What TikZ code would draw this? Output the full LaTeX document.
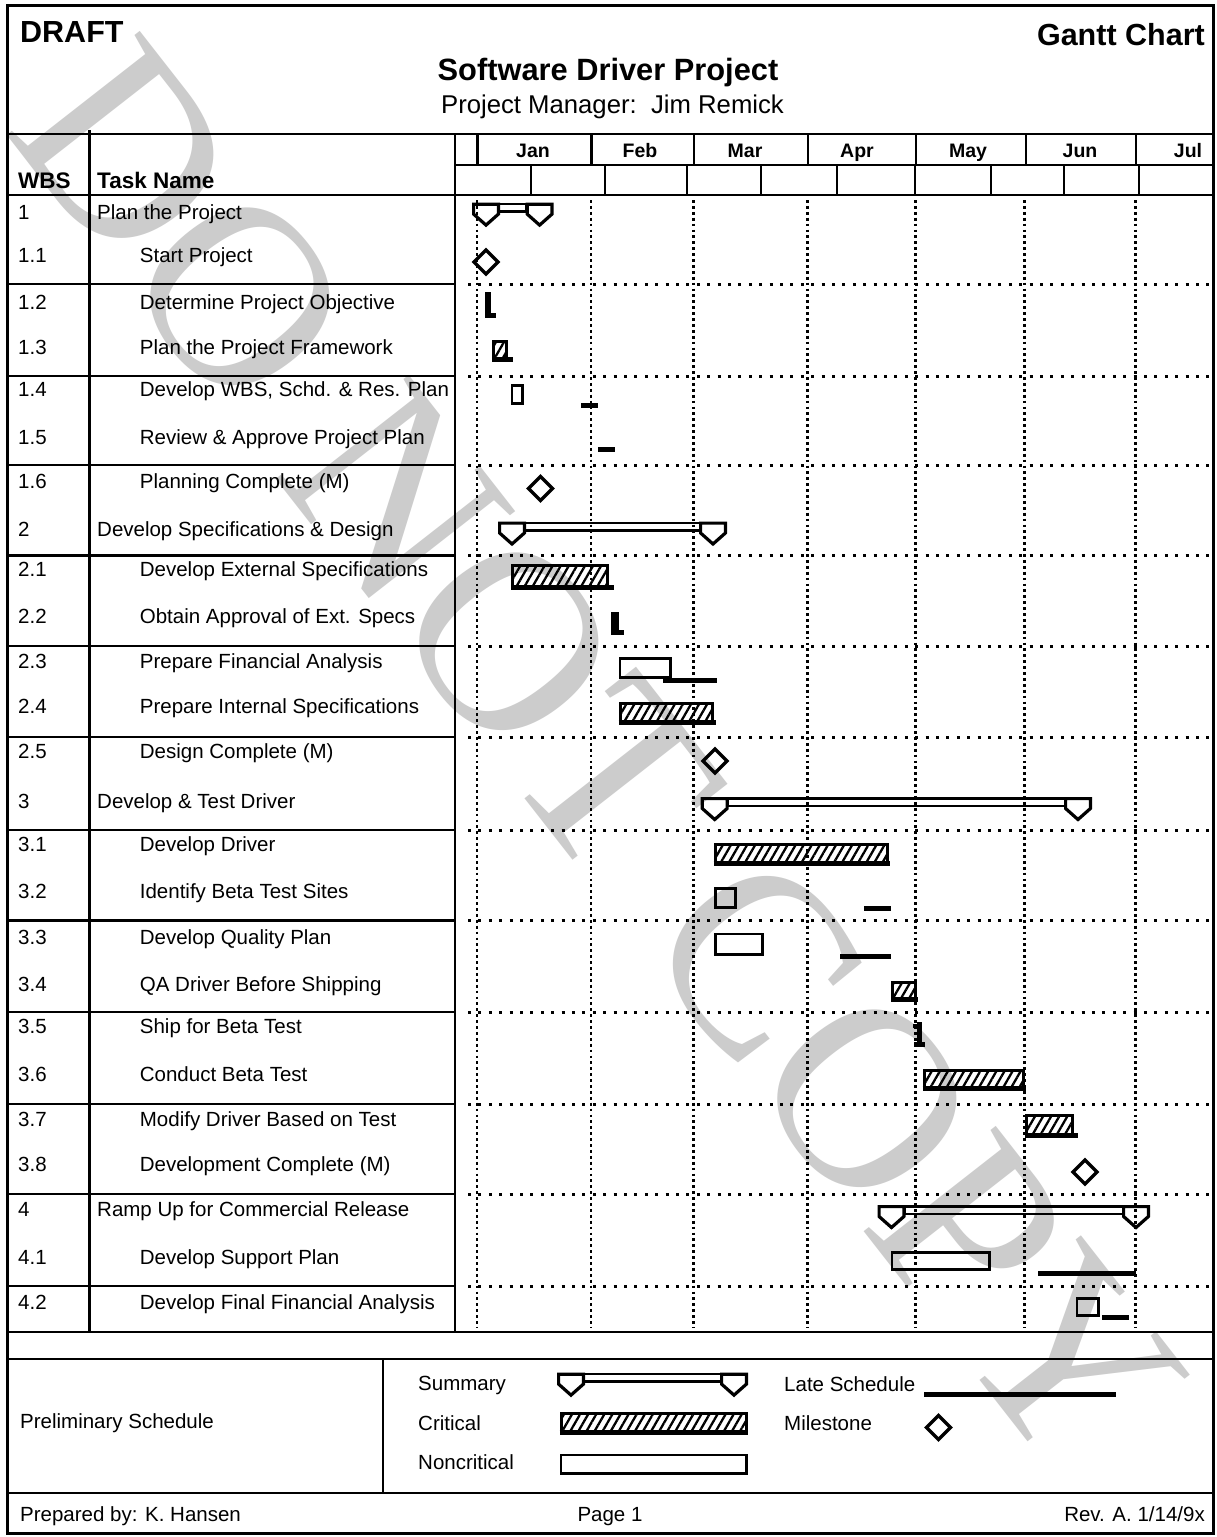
\documentclass[tikz,border=0pt]{standalone}
\usepackage{fontspec}
\setmainfont{Liberation Sans}
\newfontfamily\wmfont{Liberation Serif}
\usetikzlibrary{patterns.meta}
\newcommand{\myfs}[1]{\fontsize{#1}{#1}\selectfont}
\definecolor{wmgray}{RGB}{204,204,204}
% summary bar: x0, x1, top
\newcommand{\summ}[3]{%
  \draw[sumbar] (#1+27,#3+1.3) rectangle (#2-27,#3+9);
  \draw[sumcap] (#1+1.6,#3+1.6) -- (#1+26.4,#3+1.6) -- (#1+26.4,#3+11.5) -- (#1+14,#3+22.5) -- (#1+1.6,#3+11.5) -- cycle;
  \draw[sumcap] (#2-26.4,#3+1.6) -- (#2-1.6,#3+1.6) -- (#2-1.6,#3+11.5) -- (#2-14,#3+22.5) -- (#2-26.4,#3+11.5) -- cycle;}
% milestone: cx, cy
\newcommand{\mstone}[2]{%
  \draw[mile] (#1-12,#2) -- (#1,#2-12) -- (#1+12,#2) -- (#1,#2+12) -- cycle;}
% critical bar: x0 x1 y0 y1 lateend (outer extents)
\newcommand{\critbar}[5]{%
  \draw[crit] (#1+1.5,#3+1.5) rectangle (#2-1.5,#4-1.5);
  \draw[late] (#1,#4-2.5) -- (#5,#4-2.5);}
% noncritical bar: outer extents
\newcommand{\ncbar}[4]{%
  \draw[noncrit] (#1+1.4,#3+1.4) rectangle (#2-1.4,#4-1.4);}
% late line: x0 x1 y
\newcommand{\lateline}[3]{\draw[late] (#1,#3) -- (#2,#3);}
\begin{document}
\begin{tikzpicture}[x=1pt,y=-1pt,
  tx/.style={font=\myfs{20.5}, inner sep=0pt, anchor=base west},
  frame/.style={line width=2.6pt},
  dotv/.style={line width=2.8pt, dash pattern=on 2.8pt off 3.1pt},
  doth/.style={line width=3pt, dash pattern=on 3pt off 7.4pt},
  crit/.style={pattern={Lines[angle=60,distance=7pt,line width=2.3pt]}, draw, line width=3pt},
  noncrit/.style={draw, line width=2.8pt},
  late/.style={line width=5pt},
  mile/.style={draw, line width=3.4pt, line join=miter},
  sumcap/.style={draw, line width=3.2pt, line join=miter},
  sumbar/.style={draw, line width=2.4pt}]
\useasboundingbox (0,0) rectangle (1217,1537);
\fill[white] (0,0) rectangle (1217,1537);

% ---------- watermark ----------
\begin{scope}
\clip (0,0) rectangle (1217,1537);
\node[rotate=-52, text=wmgray, font=\wmfont\myfs{258}, inner sep=0pt] (wm) at (598,755) {DO NOT COPY};
\end{scope}

% ---------- frame ----------
\draw[frame, line width=3pt] (7,5) rectangle (1213.5,1533);
\draw[frame] (7,134) -- (1213.5,134);
\draw[frame] (7,195) -- (1213.5,195);
\draw[frame] (89.5,130) -- (89.5,1332);
\draw[frame] (455,134) -- (455,1332);
\draw[frame] (455,165) -- (1213.5,165);
\foreach \x in {477.5,591.5,694,808,916,1026,1136} \draw[frame] (\x,134) -- (\x,165);
\foreach \x in {531,605,687,761,837,915,991,1064,1139} \draw[frame] (\x,165) -- (\x,195);
\foreach \y in {284,376,465,555.5,646,737,830,920.5,1012,1104,1194,1286} \draw[frame] (7,\y) -- (455,\y);
\draw[frame] (7,1332) -- (1213.5,1332);
\draw[frame] (7,1359) -- (1213.5,1359);
\draw[frame] (383,1359) -- (383,1493);
\draw[frame] (7,1493) -- (1213.5,1493);

% ---------- grid ----------
\foreach \x in {477,591,693.5,807.5,915.5,1024.5,1135.5} \draw[dotv] (\x,200) -- (\x,1328);
\foreach \y in {284,376,465,555.5,646,737,830,920.5,1012,1104,1194,1286} \draw[doth] (468,\y) -- (1213.5,\y);

% ---------- header text ----------
\node[tx, font=\myfs{30.5}\bfseries] (draft) at (20,42.5) {DRAFT};
\node[tx, font=\myfs{30.5}\bfseries, anchor=base east] (gantt) at (1205,45) {Gantt Chart};
\node[tx, font=\myfs{30.8}\bfseries, anchor=base] (title) at (608,80.5) {Software Driver Project};
\node[tx, font=\myfs{25.7}, anchor=base] (pm) at (612.5,113) {Project Manager:\ \ Jim Remick};
\node[tx, font=\myfs{22.5}\bfseries] (hwbs) at (18,188) {WBS};
\node[tx, font=\myfs{22.5}\bfseries] (htask) at (97,188) {Task Name};
\foreach \m/\x [count=\i] in {Jan/533,Feb/640,Mar/745,Apr/857,May/968,Jun/1080,Jul/1188}
  \node[tx, font=\myfs{19.5}\bfseries, anchor=base] (m\i) at (\x,157.5) {\m};

% ---------- rows ----------
\foreach \w/\y/\l/\t [count=\i] in {
  1/212/97/{Plan the Project},
  1.1/255/139.7/{Start Project},
  1.2/302.5/139.7/{Determine Project Objective},
  1.3/347/139.7/{Plan the Project Framework},
  1.4/389/139.7/{Develop WBS, Schd. \& Res. Plan},
  1.5/437/139.7/{Review \& Approve Project Plan},
  1.6/481/139.7/{Planning Complete (M)},
  2/529/97/{Develop Specifications \& Design},
  2.1/569/139.7/{Develop External Specifications},
  2.2/616/139.7/{Obtain Approval of Ext. Specs},
  2.3/661.5/139.7/{Prepare Financial Analysis},
  2.4/706.5/139.7/{Prepare Internal Specifications},
  2.5/751/139.7/{Design Complete (M)},
  3/801/97/{Develop \& Test Driver},
  3.1/844/139.7/{Develop Driver},
  3.2/891/139.7/{Identify Beta Test Sites},
  3.3/937/139.7/{Develop Quality Plan},
  3.4/984/139.7/{QA Driver Before Shipping},
  3.5/1026/139.7/{Ship for Beta Test},
  3.6/1074/139.7/{Conduct Beta Test},
  3.7/1119/139.7/{Modify Driver Based on Test},
  3.8/1164/139.7/{Development Complete (M)},
  4/1209/97/{Ramp Up for Commercial Release},
  4.1/1257/139.7/{Develop Support Plan},
  4.2/1302/139.7/{Develop Final Financial Analysis}}
{
  \node[tx] (w\i) at (18,\y+7.3) {\w};
  \node[tx] (t\i) at (\l,\y+7.3) {\t};
}

% ---------- chart elements ----------
\summ{472}{553.6}{202.6}
\mstone{486}{262}
\fill (485,292) rectangle (490.5,317); \fill (485,313) rectangle (495.5,317.5);
\critbar{492}{508}{339.5}{361.5}{513}
\ncbar{510.5}{524}{384}{405}
\lateline{581}{598}{405.5}
\lateline{598}{615}{449}
\mstone{540.5}{488.5}
\summ{498}{727}{521.5}
\critbar{511}{608.5}{564}{589.5}{614}
\fill (611,612) rectangle (618.5,635); \fill (611,630) rectangle (624,635);
\ncbar{618.5}{671.5}{657}{679}
\lateline{663}{717}{680}
\critbar{618.5}{714}{701.5}{724.5}{716}
\mstone{715}{761}
\summ{700.7}{1092}{797}
\critbar{713.7}{888.5}{842.5}{865.5}{890}
\ncbar{713.7}{737}{887}{908.5}
\lateline{864}{891}{908.5}
\ncbar{713.7}{764}{932.5}{955.5}
\lateline{840}{891}{956}
\critbar{891}{917}{981}{1001.5}{917.5}
\fill (916.5,1022) rectangle (921.5,1046); \fill (913.5,1042) rectangle (925,1046.5); \fill (913,1023.5) rectangle (917,1027.5);
\critbar{922.7}{1024.5}{1068.5}{1091}{1025.5}
\critbar{1025}{1073.5}{1113.5}{1138}{1078}
\mstone{1085}{1172}
\summ{877.5}{1150}{1205}
\ncbar{890.5}{990.5}{1251}{1271}
\lateline{1038}{1136}{1273}
\ncbar{1075.5}{1099.5}{1297}{1317}
\lateline{1102}{1129}{1317.5}

% ---------- legend ----------
\node[tx] (prelim) at (20,1428.5) {Preliminary Schedule};
\node[tx] (lsum) at (418,1390) {Summary};
\node[tx] (lcrit) at (418,1430) {Critical};
\node[tx] (lnon) at (418,1469) {Noncritical};
\node[tx] (llate) at (784,1391) {Late Schedule};
\node[tx] (lmile) at (784,1430.5) {Milestone};
\summ{557}{748}{1372.6}
\critbar{559.5}{748}{1411.5}{1434.5}{748}
\ncbar{559.5}{748}{1453.5}{1474.5}
\lateline{924}{1115.5}{1394.5}
\mstone{938.5}{1427.5}

% ---------- footer ----------
\node[tx] (prep) at (20,1521.5) {Prepared by: K. Hansen};
\node[tx, anchor=base] (page) at (610,1521.5) {Page 1};
\node[tx, anchor=base east] (rev) at (1205,1521.5) {Rev. A. 1/14/9x};
\end{tikzpicture}
\end{document}
